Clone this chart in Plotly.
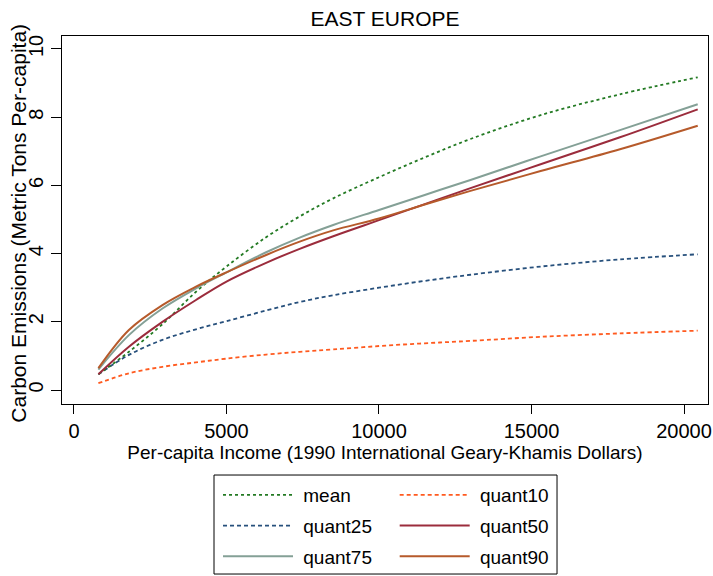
import plotly.graph_objects as go

# Per-capita income grid (1990 GK dollars)
income = [800, 1800, 2900, 4000, 5000, 6300, 7400, 8500, 10000, 11500, 13000, 15300, 17900, 20450]

# Fitted carbon emissions (metric tons per capita)
mean_fit = [0.46, 1.12, 1.93, 2.88, 3.62, 4.48, 5.09, 5.62, 6.24, 6.82, 7.36, 8.06, 8.67, 9.17]
quant10 = [0.20, 0.49, 0.68, 0.81, 0.92, 1.04, 1.12, 1.19, 1.29, 1.37, 1.44, 1.56, 1.66, 1.74]
quant25 = [0.46, 1.03, 1.47, 1.78, 2.02, 2.33, 2.58, 2.78, 3.00, 3.20, 3.38, 3.62, 3.83, 3.98]
quant50 = [0.46, 1.27, 2.00, 2.64, 3.18, 3.73, 4.14, 4.51, 4.98, 5.45, 5.92, 6.62, 7.41, 8.23]
quant75 = [0.60, 1.61, 2.39, 2.98, 3.45, 4.04, 4.47, 4.84, 5.28, 5.72, 6.16, 6.85, 7.62, 8.38]
quant90 = [0.64, 1.76, 2.49, 3.03, 3.45, 3.96, 4.35, 4.68, 5.03, 5.44, 5.84, 6.42, 7.06, 7.75]

x_ticks = [0, 5000, 10000, 15000, 20000]
y_ticks = [0, 2, 4, 6, 8, 10]

FONT = "Liberation Sans, Arial, sans-serif"

series = [
    # name, values, color, dash, legend column
    ("mean", mean_fit, "#237a23", "3px,3px", "legend"),
    ("quant25", quant25, "#27507c", "4px,3px", "legend"),
    ("quant75", quant75, "#84a096", "solid", "legend"),
    ("quant10", quant10, "#ff5a1f", "4px,3px", "legend2"),
    ("quant50", quant50, "#9b2c3c", "solid", "legend2"),
    ("quant90", quant90, "#b65a2b", "solid", "legend2"),
]

fig = go.Figure()
draw_order = ["quant10", "quant25", "mean", "quant75", "quant50", "quant90"]
lookup = {s[0]: s for s in series}
names = [s[0] for s in series]
for name in draw_order:
    _, vals, color, dash, leg = lookup[name]
    fig.add_trace(go.Scatter(
        x=income, y=vals, mode="lines", name="\u00a0" + name,
        line=dict(color=color, width=2 if dash == "solid" else 1.8, dash=dash,
                  shape="spline", smoothing=1.0),
        legend=leg, legendgroup=name, legendrank=names.index(name),
    ))

legend_common = dict(
    xanchor="left", yanchor="top",
    orientation="v", itemwidth=70, tracegroupgap=3, traceorder="grouped",
    font=dict(size=19), bgcolor="rgba(0,0,0,0)", borderwidth=0,
)

fig.update_layout(
    width=713, height=576,
    margin=dict(l=62, r=5, t=36, b=172, autoexpand=False),
    paper_bgcolor="white", plot_bgcolor="white",
    font=dict(family=FONT, size=19, color="black"),
    title=dict(text="EAST EUROPE", x=0.54, xanchor="center", y=0.968, yanchor="middle",
               font=dict(size=21, family=FONT, color="black")),
    xaxis=dict(
        range=[-393, 20787], tickvals=x_ticks, ticktext=[str(v) for v in x_ticks],
        showgrid=False, zeroline=False, showline=True, mirror=True,
        linecolor="black", linewidth=1, ticks="outside", ticklen=9, tickcolor="black",
        tickfont=dict(size=20), ticklabelstandoff=0,
        title=dict(text="Per-capita Income (1990 International Geary-Khamis Dollars)",
                   font=dict(size=19), standoff=0),
    ),
    yaxis=dict(
        range=[-0.41, 10.38], tickvals=y_ticks, ticktext=[str(v) for v in y_ticks],
        showgrid=False, zeroline=False, showline=True, mirror=True,
        linecolor="black", linewidth=1, ticks="outside", ticklen=10, tickcolor="black",
        tickangle=-90, tickfont=dict(size=20),
    ),
    annotations=[dict(
        text="Carbon Emissions (Metric Tons Per-capita)", textangle=-90,
        xref="paper", yref="paper", x=0, y=0.49, xanchor="center", yanchor="middle",
        xshift=-43, showarrow=False, font=dict(size=21, family=FONT, color="black"),
    )],
    legend=dict(x=0.2415, y=-0.1956, **legend_common),
    legend2=dict(x=0.515, y=-0.1956, **legend_common),
    shapes=[dict(type="rect", xref="paper", yref="paper",
                 x0=0.2353, x1=0.7663, y0=-0.462, y1=-0.193,
                 line=dict(color="black", width=1), fillcolor="rgba(0,0,0,0)")],
    showlegend=True,
)

fig.write_html("out.html")
